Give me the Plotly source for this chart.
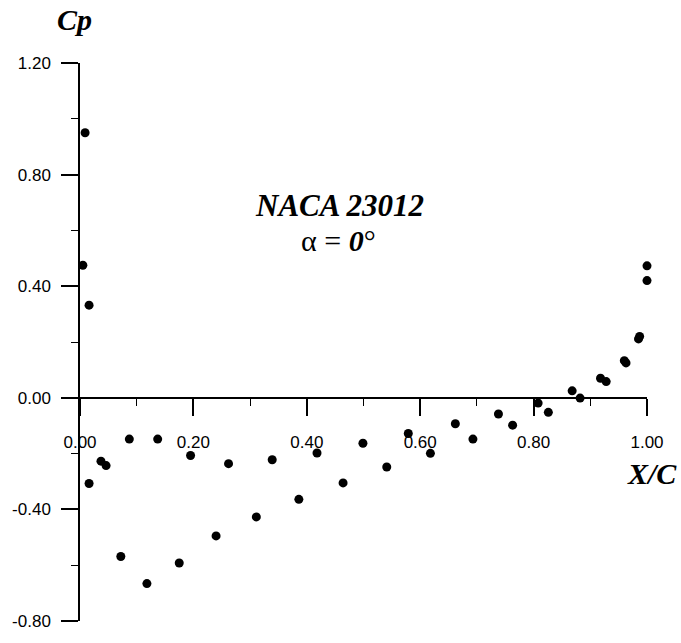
import plotly.graph_objects as go

# Pressure coefficient samples along the chord (NACA 23012, alpha = 0 deg)
x_over_c = [
    0.009, 0.005, 0.016, 0.016, 0.037, 0.046, 0.087, 0.137, 0.195, 0.262,
    0.339, 0.418, 0.464, 0.499, 0.541, 0.579, 0.618, 0.662, 0.693, 0.738,
    0.763, 0.808, 0.826, 0.868, 0.882, 0.918, 0.928, 0.960, 0.963, 0.987,
    0.985, 1.000, 1.000, 0.072, 0.118, 0.175, 0.240, 0.311, 0.386,
]
cp = [
    0.950, 0.475, 0.332, -0.307, -0.227, -0.243, -0.148, -0.148, -0.207, -0.236,
    -0.222, -0.198, -0.305, -0.163, -0.248, -0.128, -0.199, -0.093, -0.148, -0.058,
    -0.098, -0.019, -0.052, 0.025, -0.001, 0.070, 0.058, 0.133, 0.125, 0.220,
    0.211, 0.473, 0.420, -0.569, -0.666, -0.592, -0.495, -0.427, -0.364,
]

# Axis ticks
x_tick_vals = [0.0, 0.2, 0.4, 0.6, 0.8, 1.0]
x_tick_text = ["0.00", "0.20", "0.40", "0.60", "0.80", "1.00"]
y_tick_vals = [-0.8, -0.4, 0.0, 0.4, 0.8, 1.2]
y_tick_text = ["-0.80", "-0.40", "0.00", "0.40", "0.80", "1.20"]

W, H = 681, 643
L, R, T, B = 80, 34, 63, 13

SERIF = "Liberation Serif, Times New Roman, serif"
SANS = "Liberation Sans, Arial, sans-serif"

fig = go.Figure()
fig.add_trace(go.Scatter(
    x=x_over_c, y=cp, mode="markers",
    marker=dict(color="black", size=9, line=dict(width=0)),
    cliponaxis=False, showlegend=False, hoverinfo="x+y",
))

tick_font = dict(family=SANS, size=17, color="black")

fig.update_layout(
    width=W, height=H,
    margin=dict(l=L, r=R, t=T, b=B, pad=0),
    paper_bgcolor="white", plot_bgcolor="white",
    xaxis=dict(
        range=[0, 1], anchor="free", position=0.4,
        showgrid=False, zeroline=False,
        showline=True, linecolor="black", linewidth=1.5,
        ticks="outside", ticklen=17, tickwidth=1.5, tickcolor="black",
        tickvals=x_tick_vals, ticktext=x_tick_text,
        tickfont=tick_font, ticklabelstandoff=12,
        minor=dict(dtick=0.1, tick0=0, ticks="outside", ticklen=7,
                   tickwidth=1.2, tickcolor="black", showgrid=False),
    ),
    yaxis=dict(
        range=[-0.8, 1.2],
        showgrid=False, zeroline=False,
        showline=True, linecolor="black", linewidth=1.5,
        ticks="outside", ticklen=17, tickwidth=1.5, tickcolor="black",
        tickvals=y_tick_vals, ticktext=y_tick_text,
        tickfont=tick_font, ticklabelstandoff=7,
        minor=dict(dtick=0.2, tick0=0, ticks="outside", ticklen=7,
                   tickwidth=1.2, tickcolor="black", showgrid=False),
    ),
)

label_font = dict(family=SERIF, size=30, color="black")


def px_x(px):
    return (px - L) / (W - L - R)


def px_y(py):
    return (H - B - py) / (H - T - B)


annotations = [
    dict(text="<b><i>Cp</i></b>", x=px_x(74.5), y=px_y(19), size=30),
    dict(text="<b><i>NACA 23012</i></b>", x=px_x(339), y=px_y(208), size=31),
    dict(text="α = <b><i>0</i></b>°", x=px_x(338), y=px_y(243), size=30),
    dict(text="<b><i>X/C</i></b>", x=px_x(652), y=px_y(480), size=30),
]
for a in annotations:
    size = a.pop("size")
    fig.add_annotation(xref="paper", yref="paper", xanchor="center",
                       yanchor="middle", showarrow=False,
                       font=dict(family=SERIF, size=size, color="black"), **a)

fig.write_html("out.html")
